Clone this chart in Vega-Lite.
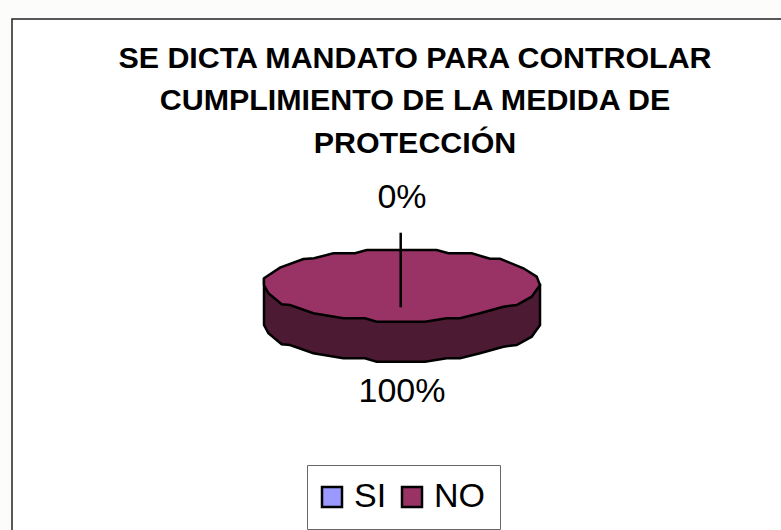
{"$schema":"https://vega.github.io/schema/vega-lite/v6.json","autosize":"none","width":772,"height":514,"padding":{"left":12,"top":19,"right":0,"bottom":0},"background":"#fcfdfb","view":{"stroke":"#222222","strokeWidth":1.5,"fill":"#ffffff"},"title":{"text":["SE DICTA MANDATO PARA CONTROLAR","CUMPLIMIENTO DE LA MEDIDA DE","PROTECCIÓN"],"font":"Liberation Sans","fontWeight":"bold","fontSize":30.4,"lineHeight":42.5,"color":"#000000","anchor":"middle","frame":"group","offset":0,"dx":17,"dy":140},"data":{"values":[{"answer":"SI","share":0},{"answer":"NO","share":1}]},"layer":[{"transform":[{"filter":"datum.answer==='NO'"}],"mark":{"type":"point","filled":true,"fill":"#4d1a33","stroke":"#000000","strokeWidth":2.5,"opacity":1,"size":4,"xOffset":2.7,"yOffset":9,"shape":"M139.3 0L139.3 40L131 51.7L116 60L102.7 61.7L79.3 68.3L59.3 73.3L46 73.3L24.3 76.7L-24 76.7L-35.7 73.3L-57.3 73.3L-87.3 68.3L-110.7 60L-119 59.3L-132.3 48.3L-136.7 40L-136.7 -6.7L-136.7 0Z"}},{"mark":{"type":"point","filled":true,"stroke":"#000000","strokeWidth":2.5,"opacity":1,"size":4,"xOffset":2.7,"yOffset":9,"shape":"M-136.7 -6.7L-120.7 -17.3L-97.3 -26L-86.7 -26.7L-67.3 -31.7L-45.7 -31.7L-34 -35L36 -35L47.7 -31.7L71 -31.7L89.3 -26.3L99.3 -26.3L122.7 -16.7L136 -8.3L139.3 0L131 11.7L116 20L102.7 21.7L79.3 28.3L59.3 33.3L46 33.3L24.3 36.7L-24 36.7L-35.7 33.3L-57.3 33.3L-87.3 28.3L-110.7 20L-119 19.3L-132.3 8.3L-136.7 0Z"},"transform":[{"filter":"datum.answer==='NO'"}],"encoding":{"color":{"field":"answer","type":"nominal","scale":{"domain":["SI","NO"],"range":["#9999ff","#993366"]},"legend":{"title":null,"orient":"none","legendX":295,"legendY":446,"direction":"horizontal","columns":2,"symbolType":"square","symbolSize":400,"symbolStrokeColor":"#000000","symbolStrokeWidth":2.5,"symbolOpacity":1,"symbolOffset":-7,"labelFont":"Liberation Sans","labelFontSize":34,"labelColor":"#000000","labelLimit":100,"labelOffset":5,"columnPadding":10,"fillColor":"#ffffff","strokeColor":"#666666","padding":15,"cornerRadius":0}}}},{"transform":[{"filter":"datum.answer==='SI'"}],"mark":{"type":"point","filled":false,"stroke":"#000000","strokeWidth":2.5,"opacity":1,"size":4,"xOffset":2.7,"yOffset":9,"shape":"M0 -52.3L0 22.3"}},{"transform":[{"filter":"datum.answer==='SI'"}],"mark":{"type":"text","font":"Liberation Sans","fontSize":34,"color":"#000000","baseline":"middle","align":"center","xOffset":4,"yOffset":-78},"encoding":{"text":{"field":"share","type":"quantitative","format":".0%"}}},{"transform":[{"filter":"datum.answer==='NO'"}],"mark":{"type":"text","font":"Liberation Sans","fontSize":34,"color":"#000000","baseline":"middle","align":"center","xOffset":4,"yOffset":116},"encoding":{"text":{"field":"share","type":"quantitative","format":".0%"}}}]}
